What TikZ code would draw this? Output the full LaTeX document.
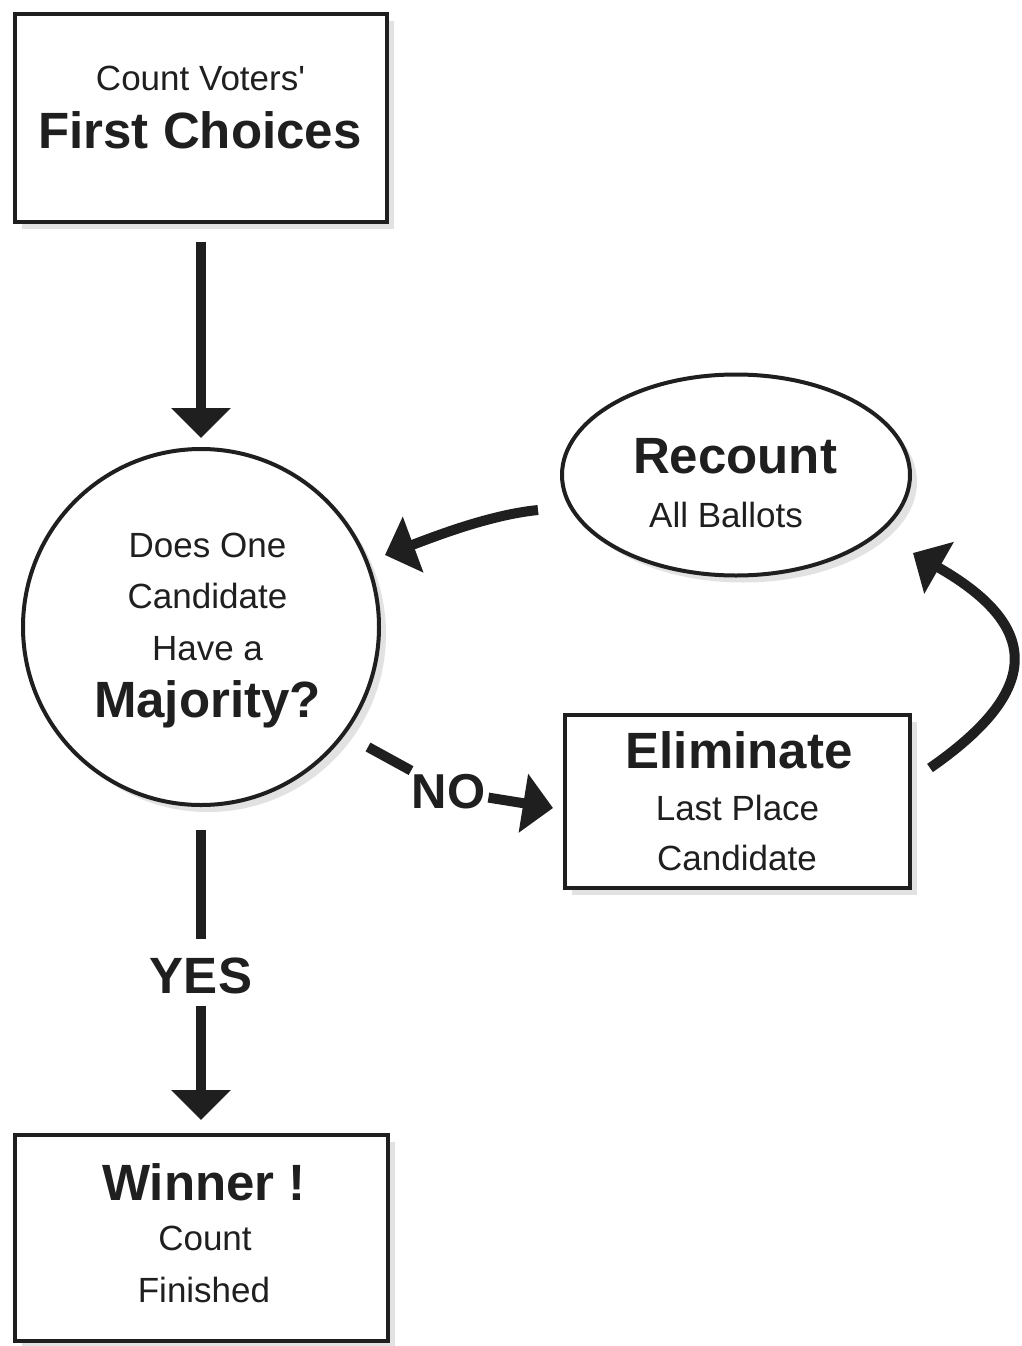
\documentclass[tikz,border=0pt]{standalone}
\usepackage{fontspec}
\setmainfont{Liberation Sans}[Ligatures=TeXOff]
\usetikzlibrary{arrows.meta,shapes.geometric,shadows}
\newcommand\regtxt{\fontsize{35pt}{42pt}\selectfont}
\newcommand\boldtxt{\fontsize{51pt}{60pt}\selectfont\bfseries}
\newcommand\notxt{\fontsize{49pt}{58pt}\selectfont\bfseries}
\begin{document}
\begin{tikzpicture}[x=1pt,y=-1pt,
  shp/.style={draw=black!88, line width=4pt, fill=white, inner sep=0pt,
    drop shadow={shadow xshift=7pt, shadow yshift=-7pt, fill=black!22}},
  boxshape/.style={shp, rectangle},
  rtxt/.style={anchor=base, inner sep=0pt, text=black!88, font=\regtxt},
  btxt/.style={anchor=base, inner sep=0pt, text=black!88, font=\boldtxt},
  ln/.style={draw=black!88, line width=10pt},
  arr/.style={ln, -{Triangle[width=58pt,length=30pt]}},
]
\useasboundingbox (0,0) rectangle (1021,1346);
\fill[white] (0,0) rectangle (1021,1346);

% shapes
\node[boxshape, minimum width=372pt, minimum height=208pt] (first) at (201,118) {};
\node[shp, circle, minimum size=356pt] (circ) at (201,627) {};
\node[shp, ellipse, minimum width=348pt, minimum height=201pt] (recount) at (736,475) {};
\node[boxshape, minimum width=345pt, minimum height=173pt] (elim) at (737.5,801.5) {};
\node[boxshape, minimum width=373pt, minimum height=206pt] (win) at (201,1238) {};

% texts
\node[rtxt] (t1) at (200.5,90) {Count Voters'};
\node[btxt] (t2) at (200,148) {First Choices};
\node[rtxt] (t3) at (207.5,557) {Does One};
\node[rtxt] (t4) at (207.5,608) {Candidate};
\node[rtxt] (t5) at (207.5,660) {Have a};
\node[btxt] (t6) at (207.5,717) {Majority?};
\node[btxt] (t7) at (735,473) {Recount};
\node[rtxt] (t8) at (726,527) {All Ballots};
\node[btxt] (t9) at (739,768) {Eliminate};
\node[rtxt] (t10) at (737.5,820) {Last Place};
\node[rtxt] (t11) at (737,870) {Candidate};
\node[btxt] (t12) at (204,1200) {Winner !};
\node[rtxt] (t13) at (205,1250) {Count};
\node[rtxt] (t14) at (204,1302) {Finished};
\node[btxt, font=\notxt, inner sep=3pt] (no) at (448.5,808) {NO};
\node[btxt] (yes) at (201,993) {YES};

% connectors
\draw[arr, shorten <=18pt, shorten >=9pt] (first.south) -- (circ.north);

\coordinate (r1) at (538,510);
\coordinate (r2) at (385,555);
\draw[arr] (r1) .. controls (488,515) and (431,538) .. (r2);

\coordinate (e1) at (930,768);
\coordinate (e2) at (913,553);
\draw[arr] (e1) .. controls (1035,695) and (1048,630) .. (e2);

\coordinate (n1) at (368,747);
\coordinate (n2) at (553,808);
\draw[ln] (n1) -- (no);
\draw[arr] (no) -- (n2);

\draw[ln, shorten <=23pt, shorten >=18pt] (circ.south) -- (yes.north);
\draw[arr, shorten <=12pt, shorten >=13pt] (yes.south) -- (win.north);
\end{tikzpicture}
\end{document}
